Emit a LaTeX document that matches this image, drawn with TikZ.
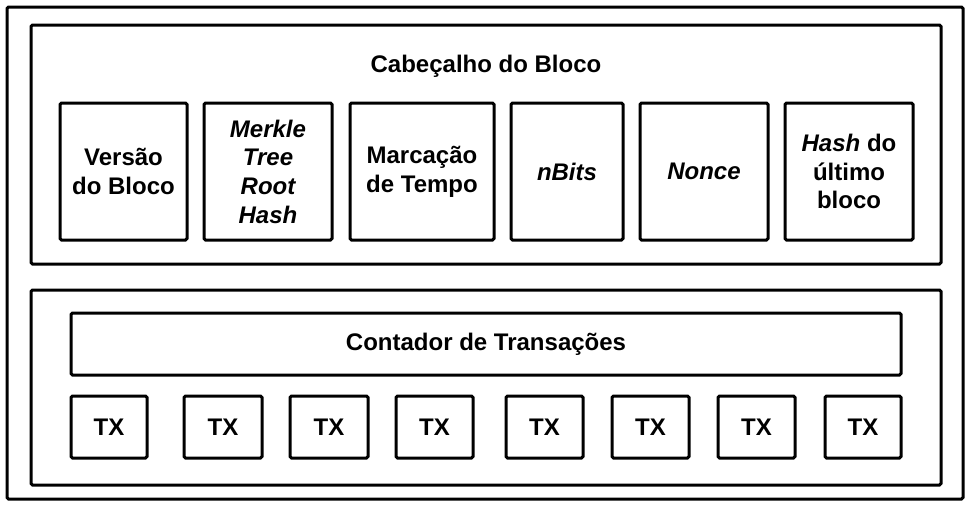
\documentclass[tikz,border=0pt]{standalone}
\usepackage{fontspec}
\setmainfont{Liberation Sans}
\begin{document}
\begin{tikzpicture}[x=1pt,y=-1pt,
  frame/.style={draw, line width=3pt, rounded corners=1.5pt, inner sep=0pt},
  lbl/.style={font=\fontsize{24}{28.7}\selectfont\bfseries},
  box/.style={frame, align=center, lbl},
  field/.style={box, minimum height=137pt},
  txbox/.style={box, minimum height=62pt}]
\useasboundingbox[fill=white] (0,0) rectangle (972,506);
% outer frames
\node[frame, minimum width=956pt, minimum height=492pt] (outer) at (485,253) {};
\node[frame, minimum width=910pt, minimum height=239pt] (header) at (486,144.5) {};
\node[frame, minimum width=910pt, minimum height=195pt] (body) at (486,387.5) {};
% header title
\node[lbl] (title) at (486,66.5) {Cabeçalho do Bloco};
% header fields
\node[field, minimum width=127pt] (versao) at (123.5,171.5) {Versão\\do Bloco};
\node[field, minimum width=128pt] (merkle) at (268,171.5) {\itshape Merkle\\\itshape Tree\\\itshape Root\\\itshape Hash};
\node[field, minimum width=144pt] (marcacao) at (422,171.5) {Marcação\\de Tempo};
\node[field, minimum width=112pt] (nbits) at (567,171.5) {\itshape nBits};
\node[field, minimum width=128pt] (nonce) at (704,171.5) {\itshape Nonce};
\node[field, minimum width=128pt] (hash) at (849,171.5) {\textit{Hash} do\\último\\bloco};
% body
\node[txbox, minimum width=830pt] (contador) at (486,344) {Contador de Transações};
\node[txbox, minimum width=76pt] (tx1) at (109,427) {TX};
\node[txbox, minimum width=78pt] (tx2) at (223,427) {TX};
\node[txbox, minimum width=78pt] (tx3) at (329,427) {TX};
\node[txbox, minimum width=77pt] (tx4) at (434.5,427) {TX};
\node[txbox, minimum width=77pt] (tx5) at (544.5,427) {TX};
\node[txbox, minimum width=77pt] (tx6) at (650.5,427) {TX};
\node[txbox, minimum width=77pt] (tx7) at (756.5,427) {TX};
\node[txbox, minimum width=76pt] (tx8) at (863,427) {TX};
\end{tikzpicture}
\end{document}
